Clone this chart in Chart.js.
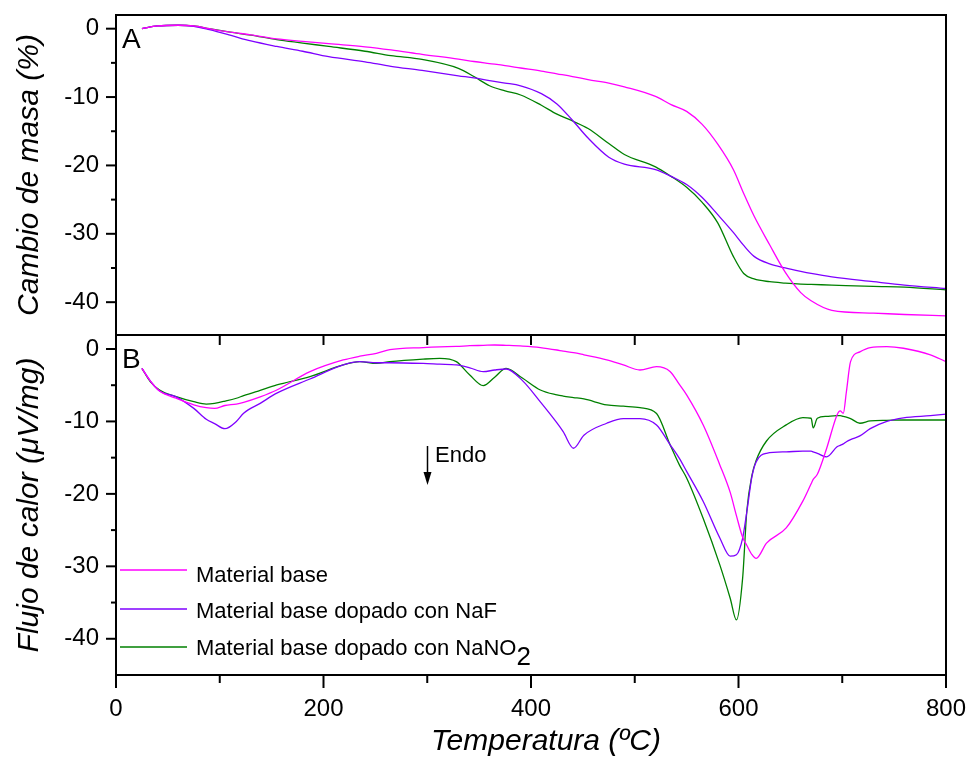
<!DOCTYPE html>
<html><head><meta charset="utf-8">
<script src="https://cdn.jsdelivr.net/npm/chart.js@4.4.1/dist/chart.umd.min.js"></script>
<style>
html,body{margin:0;padding:0;background:#fff}
#wrap{position:relative;width:970px;height:760px}
#wrap canvas{position:absolute;left:0;top:0}
</style></head><body>
<div id="wrap"><canvas id="cA" width="970" height="760"></canvas><canvas id="cB" width="970" height="760"></canvas></div>
<script>
const FONT="'Liberation Sans', Arial, Helvetica, sans-serif";

// axis ticks
const xTicks=[0,200,400,600,800], xMinor=[100,300,500,700];
const yTicks=[0,-10,-20,-30,-40], yMinor=[-5,-15,-25,-35];

// series names / colours
const names=["Material base","Material base dopado con NaF","Material base dopado con NaNO"];
const colBase="#ff00ff", colNaF="#7f00ff", colNaNO2="#008000";

// A: mass change (%) vs temperature
const tA=[25,40,60,75,90,110,130,155,180,205,240,265,295,330,345,360,375,390,410,425,440,455,475,490,520,535,550,565,580,595,605,615,630,645,660,670,690,730,760,800];
const tgaBase=[0,0.4,0.5,0.4,0,-0.5,-0.9,-1.5,-1.85,-2.2,-2.65,-3.1,-3.75,-4.45,-4.8,-5.1,-5.4,-5.75,-6.2,-6.6,-7.0,-7.45,-7.95,-8.5,-9.9,-11.1,-12.1,-14.0,-16.9,-20.6,-24.1,-27.4,-31.6,-35.6,-38.6,-39.8,-41.2,-41.6,-41.8,-42.0];
const tgaNaF=[0,0.4,0.5,0.35,-0.15,-0.95,-1.8,-2.6,-3.3,-4.1,-4.85,-5.5,-6.1,-6.9,-7.2,-7.6,-7.95,-8.35,-9.5,-11.0,-13.4,-16.0,-18.8,-19.8,-20.6,-21.6,-22.8,-24.7,-27.2,-29.8,-31.7,-33.3,-34.4,-35.0,-35.5,-35.8,-36.3,-37.0,-37.5,-38.0];
const tgaNaNO2=[0,0.4,0.5,0.4,0,-0.5,-0.95,-1.6,-2.1,-2.6,-3.3,-3.95,-4.5,-5.8,-7.0,-8.35,-9.1,-9.7,-11.2,-12.5,-13.5,-14.6,-16.8,-18.4,-20.2,-21.6,-23.2,-25.4,-28.4,-33.3,-35.8,-36.6,-37.0,-37.2,-37.35,-37.4,-37.5,-37.7,-37.8,-38.2];

// B: heat flow (uV/mg) vs temperature
const tB=[25,33,42,58,75,87,95,105,116,123,139,155,187,219,235,251,264,296,312,328,341,354,365,376,392,409,425,431,441,451,473,489,505,521,534,543,550,566,582,592,598,604,608,613,617,627,646,662,670,672,676,685,695,698,701,704,708,717,727,743,759,785,800];
const dtaBase=[-2.67,-4.4,-5.8,-6.8,-7.7,-8.1,-8.2,-7.8,-7.6,-7.36,-6.6,-5.66,-3.13,-1.52,-1.0,-0.6,-0.1,0.2,0.3,0.35,0.45,0.5,0.55,0.5,0.4,0.2,-0.14,-0.3,-0.5,-0.8,-1.5,-2.2,-2.9,-2.44,-3.1,-4.9,-6.34,-10.5,-16.0,-19.8,-23.0,-26.0,-27.1,-28.4,-28.9,-26.8,-24.7,-21.0,-18.6,-18.0,-17.3,-13.7,-9.1,-8.55,-8.87,-5.9,-1.75,-0.4,0.18,0.32,0.1,-0.8,-1.75];
const dtaNaF=[-2.67,-4.4,-5.8,-6.6,-8.2,-9.7,-10.3,-11.0,-10.0,-8.87,-7.5,-6.1,-4.14,-2.2,-1.75,-1.9,-1.9,-2.0,-2.1,-2.2,-2.6,-3.13,-2.9,-2.76,-4.4,-7.3,-10.2,-11.4,-13.7,-11.9,-10.25,-9.6,-9.6,-10.5,-13.2,-15.1,-16.9,-21.06,-26.1,-28.6,-28.4,-26.1,-22.5,-17.6,-15.6,-14.4,-14.2,-14.1,-14.1,-14.2,-14.4,-14.9,-13.5,-13.3,-13.1,-12.8,-12.5,-12.0,-11.0,-10.0,-9.5,-9.2,-9.0];
const dtaNaNO2=[-2.67,-4.5,-5.66,-6.57,-7.27,-7.6,-7.5,-7.2,-6.8,-6.44,-5.7,-4.97,-3.82,-2.2,-1.75,-2.0,-1.75,-1.4,-1.3,-1.75,-3.59,-5.06,-3.9,-2.67,-4.05,-5.66,-6.34,-6.5,-6.7,-6.9,-7.72,-7.9,-8.1,-8.9,-13.2,-16.0,-17.8,-23.4,-29.8,-34.4,-37.4,-31.6,-22.4,-17.4,-15.4,-12.7,-10.48,-9.47,-9.56,-10.9,-9.56,-9.3,-9.2,-9.2,-9.3,-9.4,-9.6,-10.25,-9.93,-9.85,-9.8,-9.8,-9.8];

const L=116, TOPA=15, MID=335, BOT=675;

function pts(xs,ys){return xs.map((x,i)=>({x,y:ys[i]}))}
function ds(label,xs,ys,c){return{label,data:pts(xs,ys),borderColor:c,borderWidth:1.3,pointRadius:0,cubicInterpolationMode:"monotone",fill:false}}
function line(c,x1,y1,x2,y2){c.beginPath();c.moveTo(x1,y1);c.lineTo(x2,y2);c.stroke()}
function noPad(s){s.paddingTop=0;s.paddingBottom=0;s.paddingLeft=0;s.paddingRight=0}

function yScale(min,max,title){return{type:"linear",min,max,
  afterFit:s=>{s.width=L;noPad(s)},
  afterBuildTicks:s=>{s.ticks=yTicks.map(v=>({value:v}))},
  grid:{display:false,drawTicks:false,tickLength:0},border:{display:false},
  ticks:{padding:17,color:"#000",font:{size:24,family:FONT}},
  title:{display:true,text:title,color:"#000",font:{size:30,style:"italic",family:FONT},padding:{top:12,bottom:0}}}}

// frame + ticks drawn from the chart's own scales
function frameTicks(ch,extra){
  const c=ch.ctx,a=ch.chartArea,y=ch.scales.y,x=ch.scales.x;
  c.save();c.strokeStyle="#000";c.lineWidth=2;
  c.strokeRect(a.left,a.top,a.right-a.left,a.bottom-a.top);
  yTicks.forEach(v=>{const p=y.getPixelForValue(v);line(c,a.left-10,p,a.left,p)});
  yMinor.forEach(v=>{const p=y.getPixelForValue(v);line(c,a.left-5,p,a.left,p)});
  if(extra)extra(c,a,x,y);
  c.restore();
}

new Chart(document.getElementById("cA"),{type:"line",
  data:{datasets:[ds(names[0],tA,tgaBase,colBase),ds(names[1],tA,tgaNaF,colNaF),ds(names[2]+"2",tA,tgaNaNO2,colNaNO2)]},
  options:{responsive:false,animation:false,layout:{padding:{top:TOPA,right:24,left:0,bottom:760-MID}},
    plugins:{legend:{display:false},tooltip:{enabled:false}},
    scales:{x:{type:"linear",min:0,max:800,display:false},y:yScale(-44.8,2.0,"Cambio de masa (%)")}},
  plugins:[{id:"fA",afterDraw(ch){frameTicks(ch,(c)=>{
    c.fillStyle="#000";c.font="28px "+FONT;c.textAlign="left";c.textBaseline="alphabetic";c.fillText("A",122,48);
  })}}]
});

new Chart(document.getElementById("cB"),{type:"line",
  data:{datasets:[ds(names[0],tB,dtaBase,colBase),ds(names[1],tB,dtaNaF,colNaF),ds(names[2]+"2",tB,dtaNaNO2,colNaNO2)]},
  options:{responsive:false,animation:false,layout:{padding:{top:MID,right:24,left:0,bottom:0}},
    plugins:{legend:{display:false},tooltip:{enabled:false}},
    scales:{
      x:{type:"linear",min:0,max:800,afterFit:s=>{s.height=760-BOT;noPad(s)},
        afterBuildTicks:s=>{s.ticks=xTicks.map(v=>({value:v}))},
        grid:{display:false,drawTicks:false,tickLength:0},border:{display:false},
        ticks:{padding:20,maxRotation:0,color:"#000",font:{size:24,family:FONT}}},
      y:yScale(-45,1.93,"Flujo de calor (\u03BCV/mg)")}},
  plugins:[{id:"fB",afterDraw(ch){frameTicks(ch,(c,a,x)=>{
    [...xTicks,...xMinor].forEach(v=>{const p=x.getPixelForValue(v);line(c,p,a.top,p,a.top+10)});
    xTicks.forEach(v=>{const p=x.getPixelForValue(v);line(c,p,a.bottom,p,a.bottom+13)});
    xMinor.forEach(v=>{const p=x.getPixelForValue(v);line(c,p,a.bottom,p,a.bottom+8)});
    c.fillStyle="#000";c.textAlign="left";c.textBaseline="alphabetic";
    c.font="28px "+FONT;c.fillText("B",122,368);
    // legend
    const rows=[[colBase,570,582],[colNaF,609,618],[colNaNO2,647,655]];
    c.font="22px "+FONT;
    rows.forEach((r,i)=>{c.strokeStyle=r[0];c.lineWidth=1.5;line(c,120,r[1],187,r[1]);c.fillStyle="#000";c.fillText(names[i],196,r[2])});
    const w=c.measureText(names[2]).width;
    c.font="26px "+FONT;c.fillText("2",196+w,665);
    // Endo marker
    c.strokeStyle="#000";c.lineWidth=1.5;line(c,427.5,446,427.5,474);
    c.beginPath();c.moveTo(423.5,472);c.lineTo(431.5,472);c.lineTo(427.5,485);c.closePath();c.fillStyle="#000";c.fill();
    c.font="22px "+FONT;c.fillText("Endo",435,462);
    // x title
    c.font="italic 30px "+FONT;c.textAlign="center";c.fillText("Temperatura (\u00BAC)",546,750);
  })}}]
});
</script>
</body></html>
